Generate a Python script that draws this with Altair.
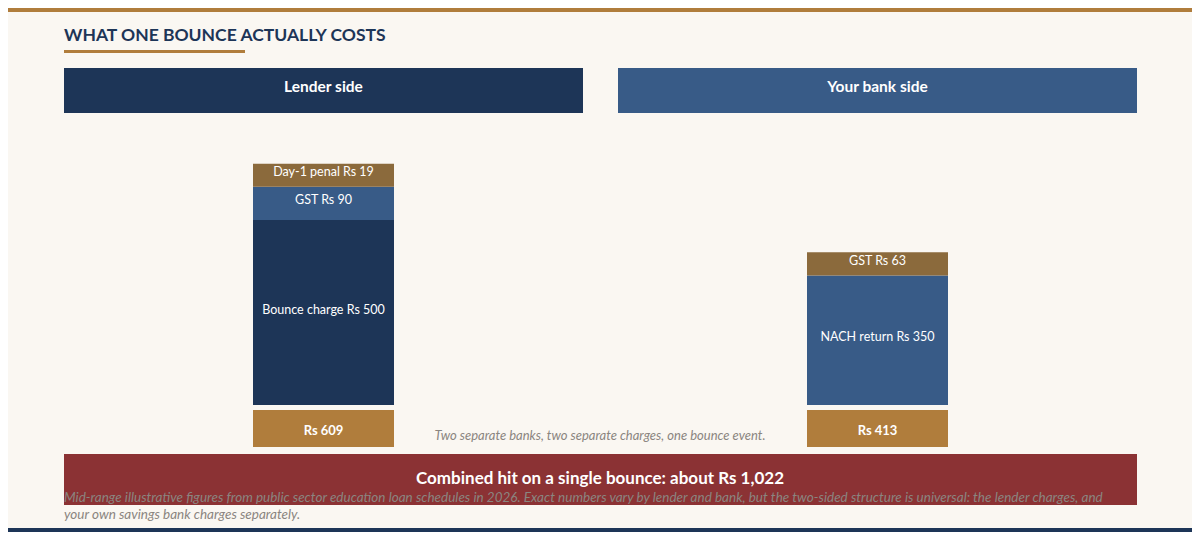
import altair as alt
import pandas as pd

# ---- data ----
sides = ["Lender side", "Your bank side"]
lender_items = ["Bounce charge", "GST", "Day-1 penal"]
lender_values = [500, 90, 19]
bank_items = ["NACH return", "GST"]
bank_values = [350, 63]
totals = [609, 413]
combined_total = 1022

title_text = "WHAT ONE BOUNCE ACTUALLY COSTS"
note_text = "Two separate banks, two separate charges, one bounce event."
banner_text = "Combined hit on a single bounce: about Rs 1,022"
foot_lines = [
    "Mid-range illustrative figures from public sector education loan schedules in 2026. Exact numbers vary by lender and bank, but the two-sided structure is universal: the lender charges, and",
    "your own savings bank charges separately.",
]

# ---- styles ----
NAVY = "#1D3557"
BLUE = "#385B87"
BROWN = "#8B6A3C"
GOLD = "#B07D3C"
RED = "#8B3234"
CREAM = "#FAF7F2"
GREY = "#8A8580"
FONT = "Lato"
MIN_SEG = 62  # minimum displayed segment height (in Rs units) so labels fit

seg_colors = {
    ("Lender side", 0): NAVY, ("Lender side", 1): BLUE, ("Lender side", 2): BROWN,
    ("Your bank side", 0): BLUE, ("Your bank side", 1): BROWN,
}

rows = []
for side, items, vals in [(sides[0], lender_items, lender_values), (sides[1], bank_items, bank_values)]:
    base = 0
    for i, (it, v) in enumerate(zip(items, vals)):
        h = max(v, MIN_SEG)
        rows.append({"side": side, "label": f"{it} Rs {v}", "y0": base, "y1": base + h,
                     "mid": base + h / 2, "color": seg_colors[(side, i)]})
        base += h
seg_df = pd.DataFrame(rows)
tot_df = pd.DataFrame({"side": sides, "label": [f"Rs {t}" for t in totals]})
head_df = pd.DataFrame({"side": sides, "color": [NAVY, BLUE]})

W, H = 1184, 524
k = 0.37
zero_y = 397
yscale = alt.Scale(domain=[-(H - zero_y) / k, zero_y / k], nice=False, zero=False)
xscale = alt.Scale(domain=sides, range=[56, 1129], paddingInner=35 / 554, paddingOuter=0)
X = alt.X("side:N", scale=xscale, axis=None)

one = pd.DataFrame({"a": [0]})

top_band = alt.Chart(one).mark_rect(color=GOLD).encode(
    x=alt.value(0), x2=alt.value(W), y=alt.value(0), y2=alt.value(4))
foot_band = alt.Chart(one).mark_rect(color=NAVY).encode(
    x=alt.value(0), x2=alt.value(W), y=alt.value(520), y2=alt.value(524))
title = alt.Chart(one).mark_text(align="left", baseline="alphabetic", font=FONT, fontSize=17.5,
                                 fontWeight="bold", color=NAVY).encode(
    x=alt.value(56), y=alt.value(33), text=alt.value(title_text))
underline = alt.Chart(one).mark_rect(color=GOLD).encode(
    x=alt.value(56), x2=alt.value(237), y=alt.value(42), y2=alt.value(45))

headers = alt.Chart(head_df).mark_rect().encode(
    x=X, y=alt.value(60), y2=alt.value(105), color=alt.Color("color:N", scale=None))
header_text = alt.Chart(head_df).mark_text(font=FONT, fontSize=15.5, fontWeight="bold",
                                           color="white", baseline="middle").encode(
    x=X, y=alt.value(79), text="side:N")

segs = alt.Chart(seg_df).mark_bar(width=141).encode(
    x=X, y=alt.Y("y1:Q", scale=yscale, axis=None), y2="y0:Q",
    color=alt.Color("color:N", scale=None))
seg_text = alt.Chart(seg_df).mark_text(font=FONT, fontSize=12.5, color="white",
                                       baseline="middle", dy=-3).encode(
    x=X, y=alt.Y("mid:Q", scale=yscale, axis=None), text="label:N")

tot_box = alt.Chart(tot_df).mark_bar(width=141, color=GOLD).encode(
    x=X, y=alt.value(402), y2=alt.value(439))
tot_text = alt.Chart(tot_df).mark_text(font=FONT, fontSize=13, fontWeight="bold",
                                       color="white", baseline="middle").encode(
    x=X, y=alt.value(423), text="label:N")

note = alt.Chart(one).mark_text(font=FONT, fontSize=13, fontStyle="italic", color=GREY,
                                baseline="middle").encode(
    x=alt.value(592), y=alt.value(428), text=alt.value(note_text))

banner = alt.Chart(one).mark_rect(color=RED).encode(
    x=alt.value(56), x2=alt.value(1129), y=alt.value(446), y2=alt.value(497))
banner_t = alt.Chart(one).mark_text(font=FONT, fontSize=17, fontWeight="bold", color="white",
                                    baseline="middle").encode(
    x=alt.value(592), y=alt.value(471), text=alt.value(banner_text))
foot = alt.Chart(one).mark_text(font=FONT, fontSize=13.5, fontStyle="italic", color=GREY,
                                align="left", baseline="middle", lineHeight=17).encode(
    x=alt.value(56), y=alt.value(490), text=alt.value(foot_lines))

chart = alt.layer(
    top_band, foot_band, title, underline, headers, header_text, segs, seg_text,
    tot_box, tot_text, note, banner, banner_t, foot
).properties(
    width=W, height=H, padding=0, autosize="none", background=CREAM
).configure_view(strokeWidth=0)

chart.save("out.html", embed_options={"renderer": "svg", "actions": False})
